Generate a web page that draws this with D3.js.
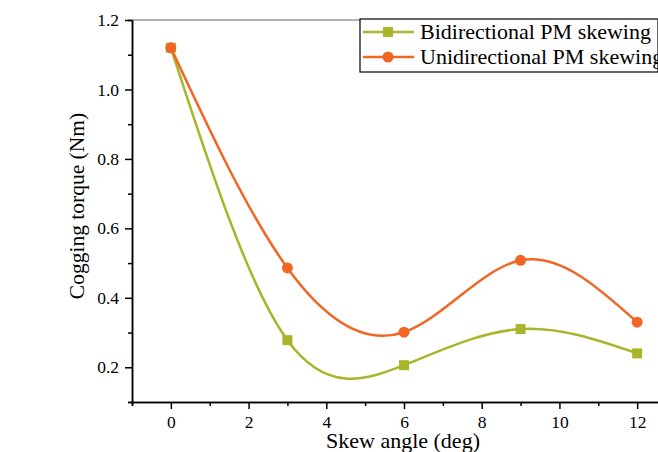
<!DOCTYPE html>
<html>
<head>
<meta charset="utf-8">
<script src="https://cdn.jsdelivr.net/npm/d3@7"></script>
<style>
body{margin:0;background:#fff}
svg text{font-family:"Liberation Serif","Times New Roman",Times,serif;fill:#000}
</style>
</head>
<body>
<div id="chart"></div>
<script>
var width = 658
var height = 452
var skewAngle = [0,3,6,9,12]
var bidirectional = [1.12,0.278,0.206,0.31,0.24]
var unidirectional = [1.12,0.486,0.301,0.508,0.33]
var seriesNames = ["Bidirectional PM skewing","Unidirectional PM skewing"]
var xTicks = [0,2,4,6,8,10,12]
var yTicks = [0.2,0.4,0.6,0.8,1.0,1.2]
var colorBi = "#A9B52A"
var colorUni = "#F26625"
var serif = "'Liberation Serif','Times New Roman',Times,serif"

var svg = d3.select("#chart").append("svg")
	.attr("width",width)
	.attr("height",height)
	.attr("font-family",serif)

// the frame runs on past the right edge of the picture
var x = d3.scaleLinear().domain([-1,13]).range([132,676])
var y = d3.scaleLinear().domain([0.1,1.2]).range([402,20])

// minor ticks first, then major ones
svg.append("g")
	.attr("transform","translate(0,402)")
	.call(d3.axisBottom(x).tickValues(d3.range(-1,14,2)).tickSize(4).tickFormat(""))
svg.append("g")
	.attr("transform","translate(132,0)")
	.call(d3.axisLeft(y).tickValues([0.1,0.3,0.5,0.7,0.9,1.1]).tickSize(4).tickFormat(""))

var xAxis = svg.append("g")
	.attr("transform","translate(0,402)")
	.call(d3.axisBottom(x).tickValues(xTicks).tickSize(7).tickSizeOuter(0).tickPadding(7))
var yAxis = svg.append("g")
	.attr("transform","translate(132,0)")
	.call(d3.axisLeft(y).tickValues(yTicks).tickSize(7).tickSizeOuter(0).tickPadding(6).tickFormat(d3.format(".1f")))

svg.selectAll("g").attr("font-family",serif)
svg.selectAll(".domain").attr("stroke","#000").attr("stroke-width",1.5)
svg.selectAll(".tick line").attr("stroke","#000").attr("stroke-width",1.5)
svg.selectAll(".tick text").style("font-size","17.5px").style("font-family",serif)

// top frame line
svg.append("line")
	.attr("x1",x(-1)).attr("x2",x(13))
	.attr("y1",y(1.2)).attr("y2",y(1.2))
	.attr("stroke","#666").attr("stroke-width",1.2)

svg.append("text")
	.attr("x",403).attr("y",448)
	.attr("text-anchor","middle")
	.style("font-size","22px").style("font-family",serif)
	.text("Skew angle (deg)")
svg.append("text")
	.attr("transform","translate(84,206) rotate(-90)")
	.attr("text-anchor","middle")
	.style("font-size","21.5px").style("font-family",serif)
	.text("Cogging torque (Nm)")

var line = d3.line()
	.x(function(d){return x(d[0])})
	.y(function(d){return y(d[1])})
	.curve(d3.curveNatural)

var biData = skewAngle.map(function(a,i){return [a,bidirectional[i]]})
var uniData = skewAngle.map(function(a,i){return [a,unidirectional[i]]})

svg.append("path").datum(biData)
	.attr("d",line).attr("fill","none")
	.attr("stroke",colorBi).attr("stroke-width",2.5)
svg.append("path").datum(uniData)
	.attr("d",line).attr("fill","none")
	.attr("stroke",colorUni).attr("stroke-width",2.5)

svg.selectAll(".sq").data(biData).enter()
	.append("rect")
	.attr("x",function(d){return x(d[0])-5})
	.attr("y",function(d){return y(d[1])-5})
	.attr("width",10).attr("height",10)
	.attr("fill",colorBi)
svg.selectAll(".dot").data(uniData).enter()
	.append("circle")
	.attr("cx",function(d){return x(d[0])})
	.attr("cy",function(d){return y(d[1])})
	.attr("r",5.5)
	.attr("fill",colorUni)

// legend
var legend = svg.append("g")
legend.append("rect")
	.attr("x",360).attr("y",19)
	.attr("width",298).attr("height",53)
	.attr("fill","#fff").attr("stroke","#000").attr("stroke-width",1.2)
var rows = [[seriesNames[0],colorBi,"sq"],[seriesNames[1],colorUni,"dot"]]
rows.forEach(function(r,i){
	var ly = 32+i*25
	legend.append("line")
		.attr("x1",363).attr("x2",414)
		.attr("y1",ly).attr("y2",ly)
		.attr("stroke",r[1]).attr("stroke-width",2.5)
	if(r[2]=="sq"){
		legend.append("rect").attr("x",383).attr("y",ly-5).attr("width",10).attr("height",10).attr("fill",r[1])
	}else{
		legend.append("circle").attr("cx",388).attr("cy",ly).attr("r",5.5).attr("fill",r[1])
	}
	legend.append("text")
		.attr("x",420).attr("y",ly+7)
		.style("font-size","22px").style("font-family",serif)
		.text(r[0])
})
</script>
</body>
</html>
